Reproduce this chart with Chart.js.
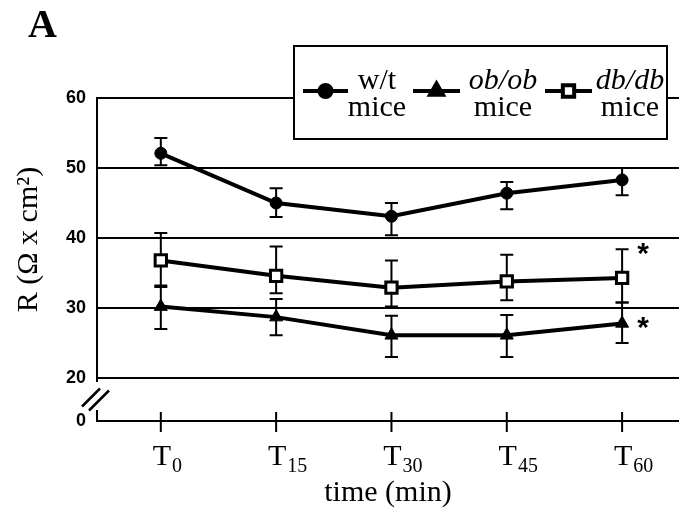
<!DOCTYPE html>
<html>
<head>
<meta charset="utf-8">
<script src="https://cdn.jsdelivr.net/npm/chart.js@4.4.1/dist/chart.umd.min.js"></script>
<style>
  html, body { margin: 0; padding: 0; background: #fff; }
  #wrap { position: relative; width: 679px; height: 512px; }
</style>
</head>
<body>
<div id="wrap"><canvas id="c" width="679" height="512"></canvas></div>
<script>
// Sampling times (min) and their subscript labels
const timePoints = [0, 15, 30, 45, 60];
const timeSubscripts = ['0', '15', '30', '45', '60'];
const yTickValues = [20, 30, 40, 50, 60];

// Transepithelial resistance R (Ω x cm²), mean with upper / lower error
const wtMean    = [52.1, 45.0, 43.1, 46.4, 48.3];
const wtErrUp   = [2.2, 2.1, 1.9, 1.6, 1.7];
const wtErrDown = [1.7, 2.0, 2.7, 2.3, 2.2];

const obMean    = [30.2, 28.7, 26.1, 26.1, 27.8];
const obErrUp   = [2.8, 2.6, 2.8, 2.9, 3.0];
const obErrDown = [3.2, 2.6, 3.1, 3.1, 2.8];

const dbMean    = [36.8, 34.6, 32.9, 33.8, 34.3];
const dbErrUp   = [3.9, 4.2, 3.9, 3.8, 4.1];
const dbErrDown = [3.6, 2.5, 2.7, 2.7, 3.5];

// Broken y axis: the bottom of the scale stands for 0
const Y_AXIS_BOTTOM = 13.86;
const X_MIN = -8.3;
const X_MAX = 67.4;
const Y_TITLE = 'R (Ω x cm²)';

const points = (mean) => timePoints.map((t, i) => ({ x: t, y: mean[i] }));

const datasets = [
  {
    label: 'w/t', data: points(wtMean), errUp: wtErrUp, errDown: wtErrDown,
    pointStyle: 'circle', pointRadius: 6, pointBorderWidth: 1,
    pointBackgroundColor: '#000', pointBorderColor: '#000',
    borderColor: '#000', borderWidth: 4, tension: 0, star: null
  },
  {
    label: 'ob/ob', data: points(obMean), errUp: obErrUp, errDown: obErrDown,
    pointStyle: 'triangle', pointRadius: 7.5, pointBorderWidth: 1,
    pointBackgroundColor: '#000', pointBorderColor: '#000',
    borderColor: '#000', borderWidth: 4, tension: 0, star: 'mean'
  },
  {
    label: 'db/db', data: points(dbMean), errUp: dbErrUp, errDown: dbErrDown,
    pointStyle: 'rect', pointRadius: 8, pointBorderWidth: 3,
    pointBackgroundColor: '#fff', pointBorderColor: '#000',
    borderColor: '#000', borderWidth: 4, tension: 0, star: 'top'
  }
];

const SERIF = '"Liberation Serif", "Times New Roman", serif';
const SANS = '"Liberation Sans", Arial, sans-serif';

function drawCentered(ctx, text, cx, baseline) {
  const w = ctx.measureText(text).width;
  ctx.fillText(text, cx - w / 2, baseline);
}

const figureExtras = {
  id: 'figureExtras',
  beforeDatasetsDraw(chart) {
    const { ctx, scales: { y } } = chart;
    ctx.save();
    ctx.strokeStyle = '#000';
    ctx.lineWidth = 2;
    chart.data.datasets.forEach((ds, i) => {
      const meta = chart.getDatasetMeta(i);
      meta.data.forEach((pt, j) => {
        const v = ds.data[j].y;
        const top = y.getPixelForValue(v + ds.errUp[j]);
        const bot = y.getPixelForValue(v - ds.errDown[j]);
        ctx.beginPath();
        ctx.moveTo(pt.x, top); ctx.lineTo(pt.x, bot);
        ctx.moveTo(pt.x - 6.5, top); ctx.lineTo(pt.x + 6.5, top);
        ctx.moveTo(pt.x - 6.5, bot); ctx.lineTo(pt.x + 6.5, bot);
        ctx.stroke();
      });
    });
    ctx.restore();
  },
  afterDraw(chart) {
    const { ctx, chartArea: a, scales: { x, y } } = chart;
    ctx.save();
    ctx.strokeStyle = '#000';
    ctx.fillStyle = '#000';
    ctx.lineCap = 'butt';

    // y axis line, interrupted between 20 and 0
    const yTop = y.getPixelForValue(60) - 1;
    const y20 = y.getPixelForValue(20);
    ctx.lineWidth = 2;
    ctx.beginPath();
    ctx.moveTo(a.left, yTop); ctx.lineTo(a.left, y20 + 4);
    ctx.moveTo(a.left, a.bottom - 11); ctx.lineTo(a.left, a.bottom + 1);
    ctx.stroke();

    // break marks
    const mid = (y20 + a.bottom) / 2;
    ctx.lineWidth = 2.5;
    ctx.beginPath();
    ctx.moveTo(a.left - 15, mid + 7); ctx.lineTo(a.left + 3, mid - 11);
    ctx.moveTo(a.left - 8, mid + 11); ctx.lineTo(a.left + 12, mid - 9);
    ctx.stroke();

    // y axis title
    ctx.save();
    ctx.font = '30px ' + SERIF;
    ctx.translate(29, (y.top + y.bottom) / 2 - 20);
    ctx.rotate(-Math.PI / 2);
    ctx.textBaseline = 'middle';
    ctx.textAlign = 'center';
    ctx.fillText(Y_TITLE, 0, 0);
    ctx.restore();

    // x tick marks crossing the axis
    ctx.lineWidth = 2;
    x.ticks.forEach(t => {
      const px = x.getPixelForValue(t.value);
      ctx.beginPath();
      ctx.moveTo(px, a.bottom - 9); ctx.lineTo(px, a.bottom + 11);
      ctx.stroke();
    });

    // x tick labels: T with subscript minutes
    x.ticks.forEach((t, i) => {
      const px = x.getPixelForValue(t.value);
      ctx.font = '30px ' + SERIF;
      const tw = ctx.measureText('T').width;
      const left = px - tw / 2 + 1;
      ctx.fillText('T', left, a.bottom + 44);
      ctx.font = '20px ' + SERIF;
      ctx.fillText(timeSubscripts[i], left + tw + 1, a.bottom + 51);
    });

    // significance asterisks after the last time point
    ctx.font = 'bold 30px ' + SANS;
    chart.data.datasets.forEach((ds, i) => {
      if (!ds.star) return;
      const meta = chart.getDatasetMeta(i);
      const last = meta.data.length - 1;
      const pt = meta.data[last];
      const v = ds.data[last].y;
      const cy = ds.star === 'top' ? y.getPixelForValue(v + ds.errUp[last]) : pt.y;
      const m = ctx.measureText('*');
      const base = cy + (m.actualBoundingBoxAscent - m.actualBoundingBoxDescent) / 2;
      drawCentered(ctx, '*', pt.x + 21, base);
    });

    // legend box
    const bx = 294, by = 46, bw = 373, bh = 93;
    ctx.fillStyle = '#fff';
    ctx.fillRect(bx, by, bw, bh);
    ctx.lineWidth = 2;
    ctx.strokeRect(bx, by, bw, bh);
    ctx.fillStyle = '#000';

    const items = [
      { x0: 303, x1: 348, tx: 377, italic: false },
      { x0: 413, x1: 460, tx: 503, italic: true },
      { x0: 545, x1: 592, tx: 630, italic: true }
    ];
    const lineY = 91;
    chart.data.datasets.forEach((ds, i) => {
      const it = items[i];
      ctx.lineWidth = 4;
      ctx.strokeStyle = '#000';
      ctx.beginPath();
      ctx.moveTo(it.x0, lineY); ctx.lineTo(it.x1, lineY);
      ctx.stroke();
      const mx = (it.x0 + it.x1) / 2;
      ctx.fillStyle = ds.pointBackgroundColor;
      ctx.strokeStyle = ds.pointBorderColor;
      Chart.helpers.drawPoint(ctx, {
        pointStyle: ds.pointStyle, radius: ds.pointRadius,
        borderWidth: ds.pointBorderWidth, rotation: 0
      }, mx, lineY);
      ctx.fillStyle = '#000';
      ctx.font = (it.italic ? 'italic ' : '') + '30px ' + SERIF;
      drawCentered(ctx, ds.label, it.tx, 89);
      ctx.font = '30px ' + SERIF;
      drawCentered(ctx, 'mice', it.tx, 116);
    });

    // panel letter
    ctx.font = 'bold 40px ' + SERIF;
    ctx.fillText('A', 28, 37);
    ctx.restore();
  }
};

new Chart(document.getElementById('c'), {
  type: 'line',
  data: { datasets },
  options: {
    responsive: false,
    animation: false,
    layout: { autoPadding: false, padding: { top: 98, right: 0, bottom: 0, left: 0 } },
    plugins: {
      legend: { display: false },
      tooltip: { enabled: false },
      title: { display: false }
    },
    scales: {
      x: {
        type: 'linear', min: X_MIN, max: X_MAX,
        afterBuildTicks: s => { s.ticks = timePoints.map(v => ({ value: v })); },
        afterFit: s => { s.height = 91; },
        grid: { display: false },
        border: { display: true, color: '#000', width: 2 },
        ticks: { display: false },
        title: {
          display: true, text: 'time (min)', color: '#000',
          font: { family: SERIF, size: 30 }, padding: { top: 0, bottom: 1 }
        }
      },
      y: {
        type: 'linear', min: Y_AXIS_BOTTOM, max: 60,
        afterBuildTicks: s => { s.ticks = [Y_AXIS_BOTTOM, ...yTickValues].map(v => ({ value: v })); },
        afterFit: s => { s.width = 97; },
        grid: {
          color: c => (c.tick && c.tick.value === Y_AXIS_BOTTOM) ? 'rgba(0,0,0,0)' : '#000',
          lineWidth: 2, drawTicks: false
        },
        border: { display: false },
        ticks: {
          callback: v => (v === Y_AXIS_BOTTOM ? '0' : String(v)),
          color: '#000', padding: 11,
          font: { family: SANS, size: 18, weight: 'bold' }
        },
        title: { display: false }
      }
    }
  },
  plugins: [figureExtras]
});
</script>
</body>
</html>
